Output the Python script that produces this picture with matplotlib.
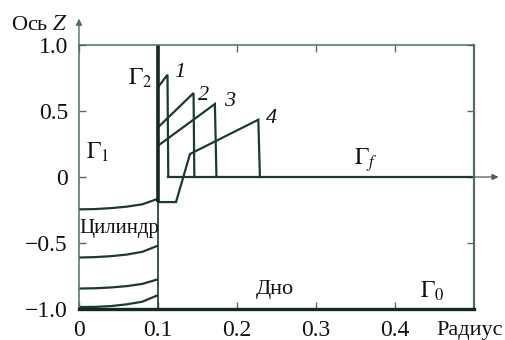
import matplotlib
matplotlib.use("Agg")
import matplotlib.pyplot as plt

plt.rcParams['font.family'] = ['Liberation Serif', 'DejaVu Serif']
plt.rcParams['mathtext.fontset'] = 'stix'

# Free-surface profiles inside the cylinder (r from axis to wall)
r_inner = [0.0, 0.02, 0.04, 0.06, 0.08, 0.1]
z_inner_a = [-0.245, -0.243, -0.236, -0.225, -0.207, -0.165]
z_inner_b = [-0.61, -0.607, -0.600, -0.588, -0.567, -0.52]
z_inner_c = [-0.845, -0.843, -0.837, -0.827, -0.81, -0.775]
z_inner_d = [-0.985, -0.984, -0.978, -0.965, -0.945, -0.895]

# Liquid profiles outside the cylinder, labelled 1..4
r_prof1 = [0.1, 0.112, 0.113]
z_prof1 = [0.68, 0.775, 0.0]
r_prof2 = [0.1, 0.145, 0.146]
z_prof2 = [0.376, 0.636, 0.0]
r_prof3 = [0.1, 0.172, 0.174]
z_prof3 = [0.237, 0.553, 0.0]
r_prof4 = [0.1, 0.1228, 0.1405, 0.1447, 0.227, 0.229]
z_prof4 = [-0.19, -0.19, 0.174, 0.187, 0.434, 0.0]

# Undisturbed free surface Γf
r_flat = [0.113, 0.5]
z_flat = [0.0, 0.0]

# Cylinder wall
r_wall = 0.1

x_ticks = [0.0, 0.1, 0.2, 0.3, 0.4]
x_tick_labels = ['0', '0.1', '0.2', '0.3', '0.4']
y_ticks = [1.0, 0.5, 0.0, -0.5, -1.0]
y_tick_labels = ['1.0', '0.5', '0', '\u22120.5', '\u22121.0']

line_c = '#1c3a32'
spine_c = '#4f6e64'

fig = plt.figure(figsize=(5.06, 3.40), dpi=100)
ax = fig.add_axes([79 / 506, 31 / 340, 395 / 506, 264 / 340])
ax.set_xlim(0, 0.5)
ax.set_ylim(-1.0, 1.0)

lw = 1.6
for z in (z_inner_a, z_inner_b, z_inner_c, z_inner_d):
    ax.plot(r_inner, z, color=line_c, lw=lw, solid_capstyle='butt')
for r, z in ((r_prof1, z_prof1), (r_prof2, z_prof2), (r_prof3, z_prof3), (r_prof4, z_prof4)):
    ax.plot(r, z, color=line_c, lw=lw, solid_joinstyle='miter')
ax.plot(r_flat, z_flat, color=line_c, lw=lw)

ax.plot([r_wall, r_wall], [-0.19, 1.0], color='#102a22', lw=2.6, solid_capstyle='butt')
ax.plot([r_wall, r_wall], [-1.0, -0.19], color=line_c, lw=1.2, solid_capstyle='butt')

for side in ('left', 'top'):
    ax.spines[side].set_color(spine_c)
    ax.spines[side].set_linewidth(1.1)
ax.spines['right'].set_color(spine_c)
ax.spines['right'].set_linewidth(1.6)
ax.spines['bottom'].set_color('#102a22')
ax.spines['bottom'].set_linewidth(2.4)

ax.set_xticks(x_ticks)
ax.set_xticklabels(x_tick_labels)
ax.set_yticks(y_ticks)
ax.set_yticklabels(y_tick_labels)
ax.tick_params(direction='in', length=5, width=1, color=spine_c,
               top=True, right=True, labelsize=17, labelcolor='#111111')
ax.tick_params(axis='x', pad=8)
ax.tick_params(axis='y', pad=8)

# Axis arrows
ax.annotate('', xy=(0.0, 1.2), xytext=(0.0, 1.0), xycoords='data',
            annotation_clip=False,
            arrowprops=dict(arrowstyle='-|>', color=spine_c, lw=1.0,
                            mutation_scale=9, shrinkA=0, shrinkB=0))
ax.annotate('', xy=(0.531, 0.0), xytext=(0.5, 0.0), xycoords='data',
            annotation_clip=False,
            arrowprops=dict(arrowstyle='-|>', color='#555555', lw=0.9,
                            mutation_scale=9, shrinkA=0, shrinkB=0))

tc = '#111111'
ax.text(0.0772, 0.75, r'$\Gamma_2$', fontsize=17, ha='center', va='center', color=tc)
ax.text(0.128, 0.79, '1', fontsize=16, style='italic', ha='center', va='center', color=tc)
ax.text(0.158, 0.62, '2', fontsize=16, style='italic', ha='center', va='center', color=tc)
ax.text(0.190, 0.57, '3', fontsize=16, style='italic', ha='center', va='center', color=tc)
ax.text(0.244, 0.44, '4', fontsize=16, style='italic', ha='center', va='center', color=tc)
ax.text(0.023, 0.19, r'$\Gamma_1$', fontsize=17, ha='center', va='center', color=tc)
ax.text(0.363, 0.13, r'$\Gamma_f$', fontsize=17, ha='center', va='center', color=tc)
ax.text(0.0506, -0.39, 'Цилиндр', fontsize=15, ha='center', va='center', color=tc)
ax.text(0.248, -0.85, 'Дно', fontsize=16, ha='center', va='center', color=tc)
ax.text(0.447, -0.87, r'$\Gamma_0$', fontsize=17, ha='center', va='center', color=tc)

fig.text(470 / 506, 1 - 331 / 340, 'Радиус', fontsize=16, ha='center', va='center', color=tc)
fig.text(40 / 506, 1 - 25 / 340, r'Ось $Z$', fontsize=16, ha='center', va='center', color=tc)

fig.savefig('out.png', dpi=100)
